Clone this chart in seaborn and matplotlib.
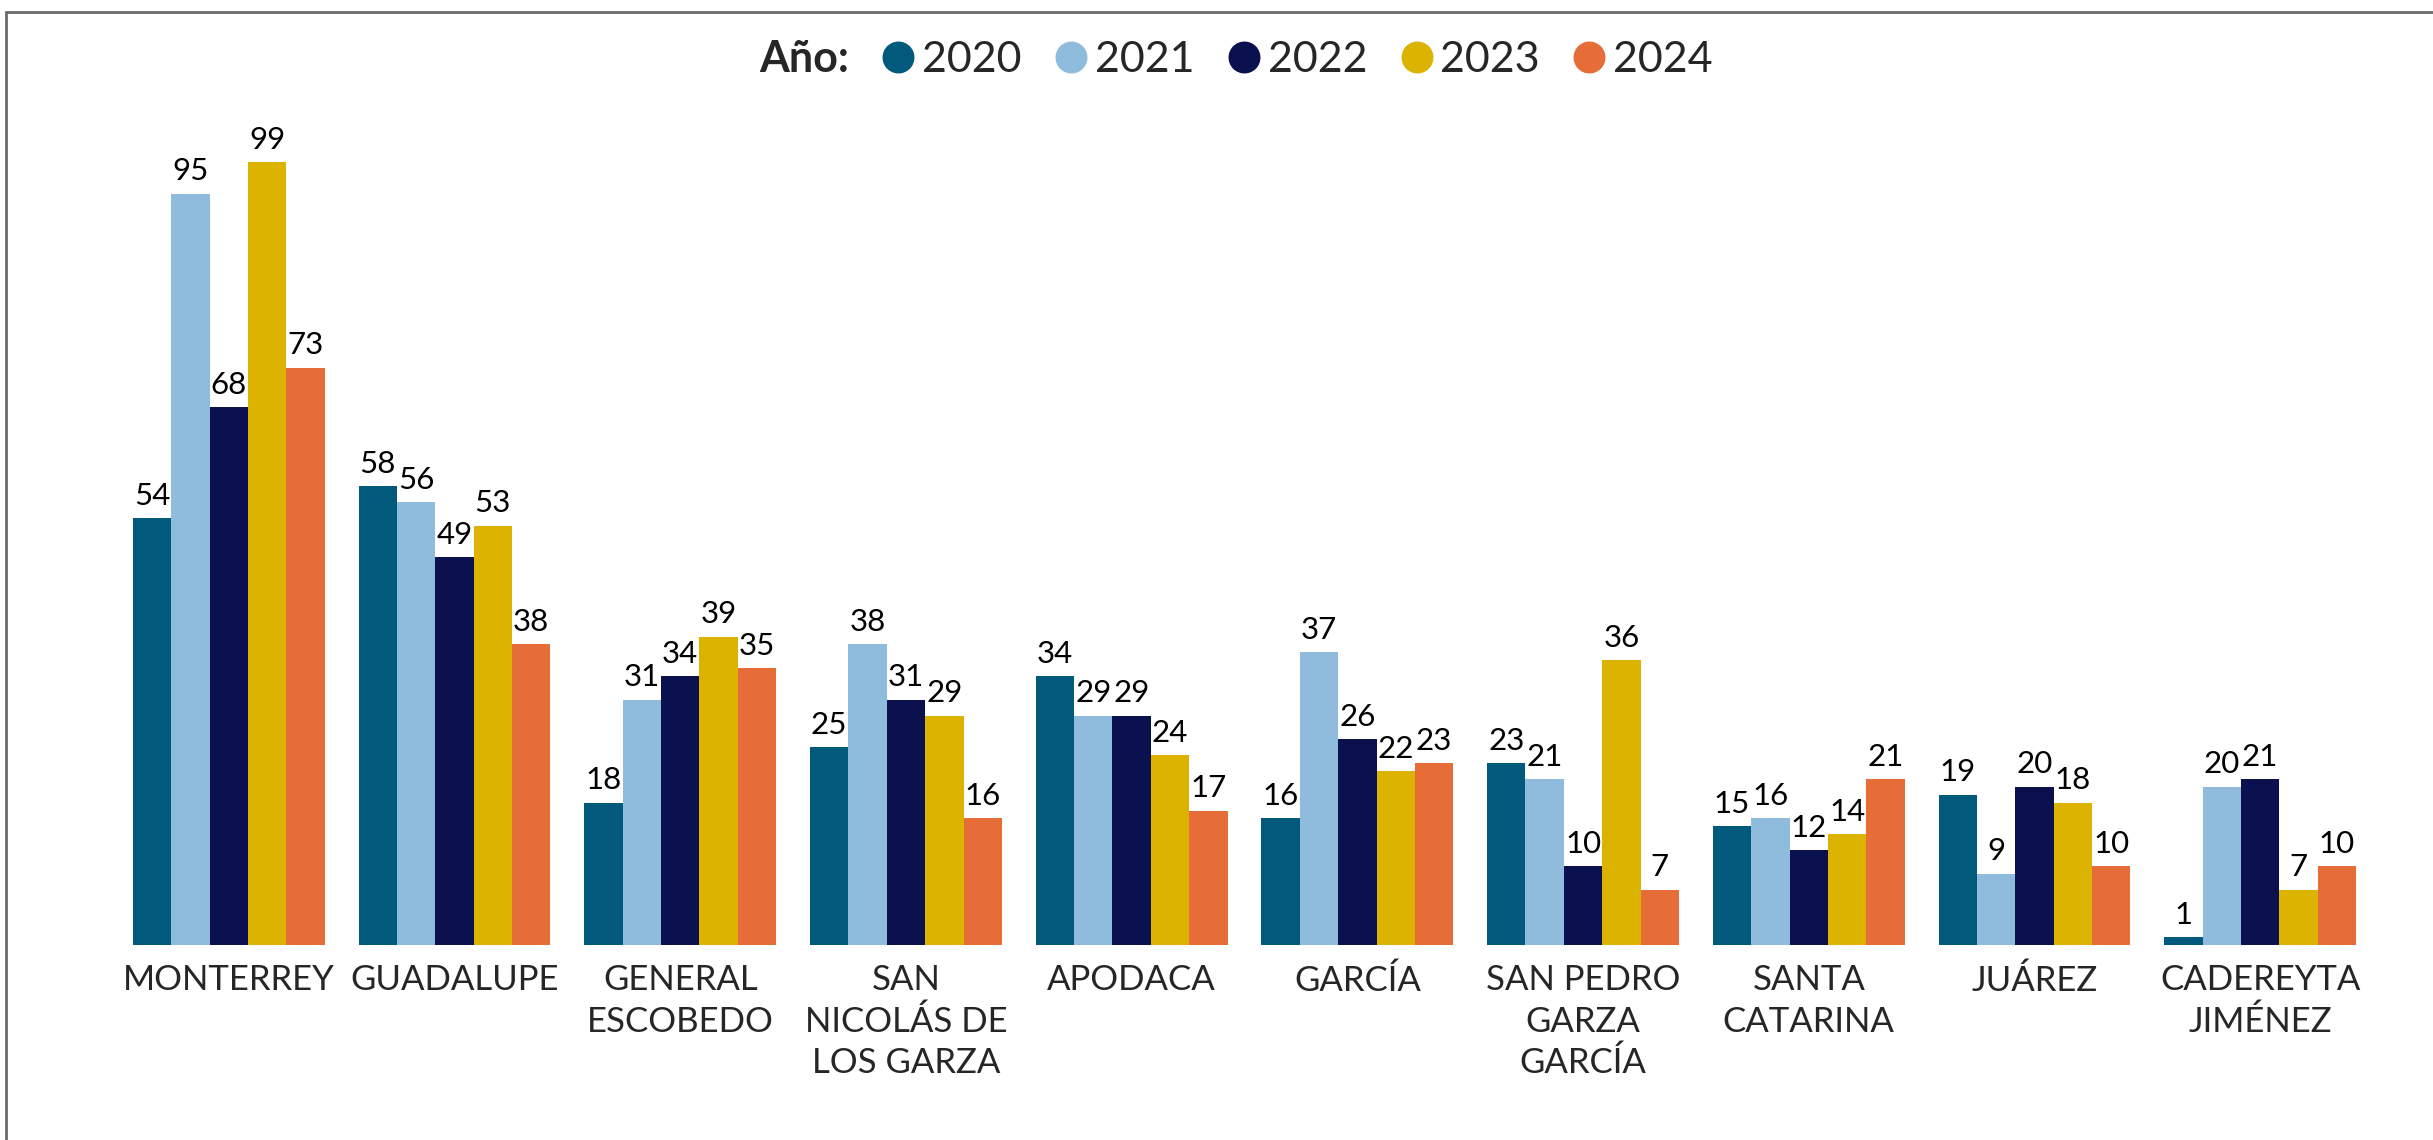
import matplotlib.pyplot as plt
import pandas as pd
import seaborn as sns
from matplotlib.lines import Line2D

# Datos
municipios = [
    "MONTERREY", "GUADALUPE", "GENERAL\nESCOBEDO", "SAN\nNICOLÁS DE\nLOS GARZA",
    "APODACA", "GARCÍA", "SAN PEDRO\nGARZA\nGARCÍA", "SANTA\nCATARINA",
    "JUÁREZ", "CADEREYTA\nJIMÉNEZ",
]
anios = ["2020", "2021", "2022", "2023", "2024"]
v2020 = [54, 58, 18, 25, 34, 16, 23, 15, 19, 1]
v2021 = [95, 56, 31, 38, 29, 37, 21, 16, 9, 20]
v2022 = [68, 49, 34, 31, 29, 26, 10, 12, 20, 21]
v2023 = [99, 53, 39, 29, 24, 22, 36, 14, 18, 7]
v2024 = [73, 38, 35, 16, 17, 23, 7, 21, 10, 10]
colores = ["#015a7b", "#8fbcdc", "#0b114e", "#dbb300", "#e66c38"]

series = [v2020, v2021, v2022, v2023, v2024]
filas = []
for anio, valores in zip(anios, series):
    for m, v in zip(municipios, valores):
        filas.append({"Municipio": m, "Año": anio, "Valor": v})
df = pd.DataFrame(filas)

sns.set_theme(style="white")
plt.rcParams["font.family"] = ["Lato", "DejaVu Sans"]

fig = plt.figure(figsize=(24.33, 11.40), dpi=100)
ax = fig.add_axes([116 / 2433, 195 / 1140, 2257 / 2433, 870 / 1140])

sns.barplot(
    data=df, x="Municipio", y="Valor", hue="Año",
    palette=colores, width=0.85, saturation=1, legend=False, ax=ax,
    order=municipios, hue_order=anios, linewidth=0,
)

for cont in ax.containers:
    ax.bar_label(cont, fontsize=22.5, padding=6, color="black")

ax.set_xlim(-0.5, 9.5)
ax.set_ylim(0, 110)
ax.set_xlabel("")
ax.set_ylabel("")
ax.set_yticks([])
ax.tick_params(axis="x", length=0, pad=14, labelsize=25)
for lbl in ax.get_xticklabels():
    lbl.set_linespacing(1.35)
    lbl.set_verticalalignment("top")
sns.despine(ax=ax, left=True, bottom=True)

# Leyenda con círculos
handles = [Line2D([], [], linestyle="none", marker="")]
handles += [
    Line2D([], [], linestyle="none", marker="o", markersize=22, color=c)
    for c in colores
]
leg = fig.legend(
    handles, ["Año:"] + anios, loc="center", bbox_to_anchor=(0.5, 0.948),
    ncol=6, frameon=False, fontsize=31, handlelength=0.7,
    handletextpad=0.2, columnspacing=0.8,
)
leg.get_texts()[0].set_fontweight("bold")

# Marco del recuadro (izquierda y arriba)
fig.add_artist(Line2D([6 / 2433, 6 / 2433], [0, 1 - 12 / 1140],
                      transform=fig.transFigure, color="#6b6b6b", lw=2))
fig.add_artist(Line2D([6 / 2433, 1], [1 - 12 / 1140, 1 - 12 / 1140],
                      transform=fig.transFigure, color="#6b6b6b", lw=2))

fig.savefig("out.png", dpi=100, facecolor="white")
